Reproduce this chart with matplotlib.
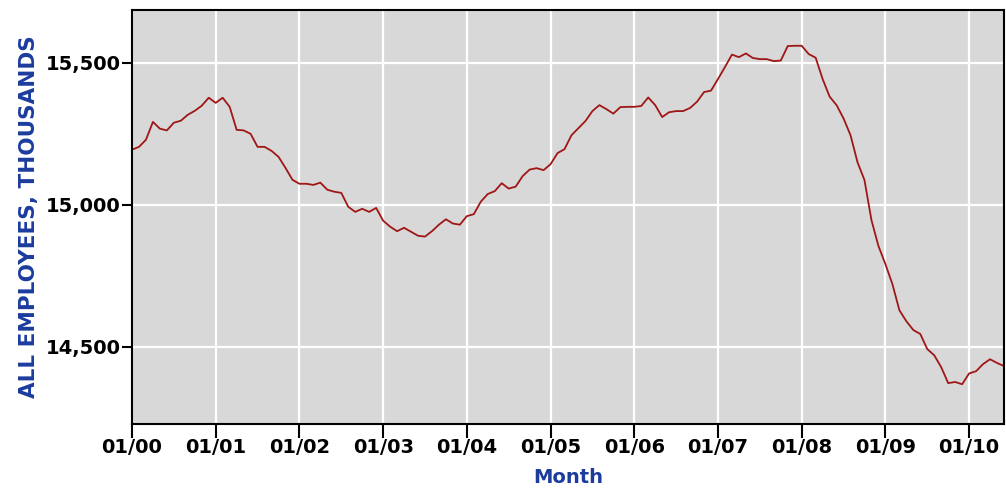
import numpy as np
import matplotlib
matplotlib.use('Agg')
import matplotlib.pyplot as plt
from matplotlib.ticker import FuncFormatter

# monthly values, thousands, 01/2000 .. 06/2010
employees = [
    15194, 15204, 15229, 15292, 15268, 15262, 15289, 15296, 15317, 15331, 15349, 15377,  # 2000
    15359, 15377, 15345, 15264, 15262, 15250, 15204, 15204, 15190, 15169, 15130, 15088,  # 2001
    15074, 15074, 15070, 15078, 15053, 15046, 15042, 14993, 14975, 14986, 14975, 14989,  # 2002
    14944, 14923, 14907, 14919, 14905, 14891, 14888, 14907, 14930, 14949, 14934, 14930,  # 2003
    14960, 14967, 15011, 15038, 15048, 15076, 15057, 15064, 15101, 15124, 15129, 15122,  # 2004
    15143, 15182, 15196, 15245, 15270, 15295, 15330, 15351, 15337, 15321, 15344, 15345,  # 2005
    15345, 15348, 15378, 15351, 15309, 15326, 15330, 15330, 15341, 15363, 15397, 15402,  # 2006
    15443, 15485, 15529, 15520, 15533, 15517, 15513, 15513, 15506, 15508, 15559, 15560,  # 2007
    15560, 15531, 15518, 15443, 15381, 15351, 15304, 15245, 15150, 15087, 14946, 14855,  # 2008
    14791, 14721, 14629, 14590, 14559, 14545, 14492, 14470, 14428, 14372, 14376, 14368,  # 2009
    14406, 14414, 14439, 14456, 14443, 14432,  # 2010
]
year_labels = ['01/00', '01/01', '01/02', '01/03', '01/04', '01/05',
               '01/06', '01/07', '01/08', '01/09', '01/10']
y_ticks = [14500, 15000, 15500]

blue = '#1c3c9e'
months = np.arange(len(employees))

fig = plt.figure(figsize=(10.06, 4.95), dpi=100)
ax = fig.add_axes([132/1006, 1 - 424/495, (1004 - 132)/1006, (424 - 10)/495])
ax.set_facecolor('#d8d8d8')

ax.plot(months, employees, color='#a01616', lw=1.3)

ax.set_xticks(np.arange(len(year_labels)) * 12)
ax.set_xticklabels(year_labels)
ax.set_yticks(y_ticks)
ax.yaxis.set_major_formatter(FuncFormatter(lambda v, p: f'{int(v):,}'))
ax.set_xlim(0, len(employees) - 1)
ax.set_ylim(14228, 15686)

ax.grid(True, color='white', lw=1.6)
ax.set_axisbelow(True)
for s in ax.spines.values():
    s.set_color('black')
    s.set_linewidth(1.5)

ax.tick_params(axis='x', length=10, width=1.5, pad=0, labelsize=14)
ax.tick_params(axis='y', length=7, width=1.5, pad=1, labelsize=14)
for lab in ax.get_xticklabels() + ax.get_yticklabels():
    lab.set_fontweight('bold')

ax.set_ylabel('ALL EMPLOYEES, THOUSANDS', color=blue, fontsize=15.5, fontweight='bold', labelpad=5)
ax.set_xlabel('Month', color=blue, fontsize=14, fontweight='bold', labelpad=8)

fig.savefig('out.png', dpi=100)
